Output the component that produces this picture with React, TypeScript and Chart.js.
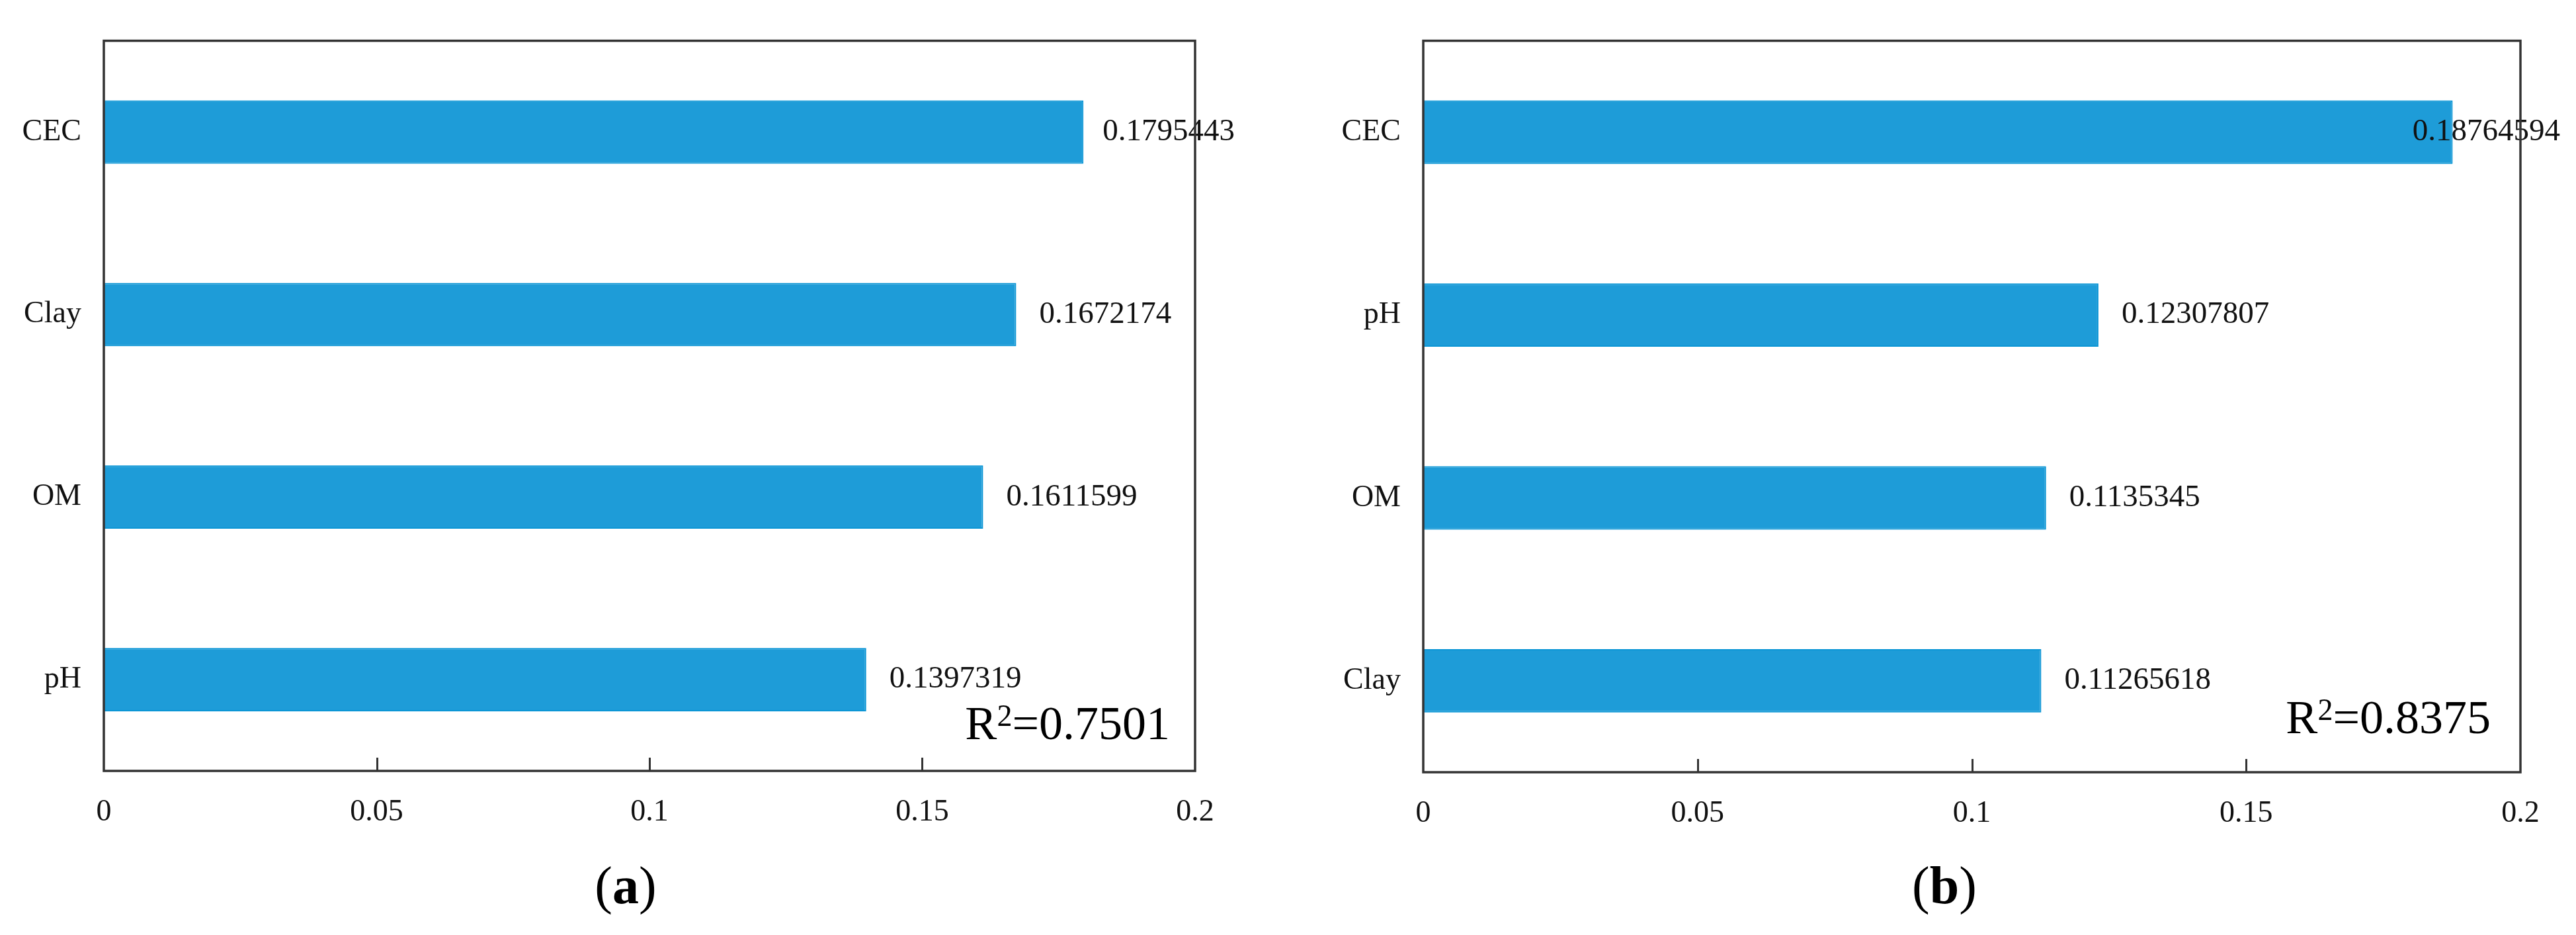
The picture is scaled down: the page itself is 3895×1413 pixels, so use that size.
import React, { useEffect, useRef } from 'react';
import { Chart, registerables } from 'chart.js';

Chart.register(...registerables);

// ---- data ----
const categoriesA = ['CEC', 'Clay', 'OM', 'pH'];
const valuesA = [0.1795443, 0.1672174, 0.1611599, 0.1397319];
const categoriesB = ['CEC', 'pH', 'OM', 'Clay'];
const valuesB = [0.18764594, 0.12307807, 0.1135345, 0.11265618];
const xTickValues = [0, 0.05, 0.1, 0.15, 0.2];
const xTickLabels = ['0', '0.05', '0.1', '0.15', '0.2'];
const r2A = '0.7501';
const r2B = '0.8375';
const captionA = 'a';
const captionB = 'b';

const FONT = '"Liberation Serif", "Times New Roman", serif';
const BAR_COLOR = '#1e9cd8';
const BAR_EDGE = '#0a95d5';
const FRAME = '#333333';

type PanelCfg = {
  left: number;
  width: number;
  yAxisWidth: number;
  padTop: number;
  padRight: number;
  xAxisHeight: number;
  r2Right: number;
  r2Bottom: number;
  categories: string[];
  values: number[];
  r2: string;
  caption: string;
};

const panelA: PanelCfg = {
  left: 0, width: 1892, yAxisWidth: 157, padTop: 35, padRight: 85, xAxisHeight: 248,
  r2Right: 38, r2Bottom: 48,
  categories: categoriesA, values: valuesA, r2: r2A, caption: captionA,
};
const panelB: PanelCfg = {
  left: 1985, width: 1910, yAxisWidth: 167, padTop: 30, padRight: 84, xAxisHeight: 246,
  r2Right: 45, r2Bottom: 59,
  categories: categoriesB, values: valuesB, r2: r2B, caption: captionB,
};

const H = 1413;

const decorPlugin = {
  id: 'decor',
  afterDatasetsDraw(chart: any, _args: any, opts: any) {
    const { ctx, chartArea: a } = chart;
    const meta = chart.getDatasetMeta(0);
    const vals: number[] = chart.data.datasets[0].data;
    ctx.save();
    ctx.fillStyle = '#111';
    ctx.font = `47px ${FONT}`;
    ctx.textBaseline = 'middle';
    ctx.textAlign = 'left';
    meta.data.forEach((bar: any, i: number) => {
      const txt = String(vals[i]);
      const w = ctx.measureText(txt).width;
      const x = Math.min(bar.x + 35, a.right + 60 - w);
      ctx.fillText(txt, x, bar.y);
    });
    ctx.restore();
  },
  afterDraw(chart: any, _args: any, opts: any) {
    const { ctx, chartArea: a, scales } = chart;
    ctx.save();
    // frame
    ctx.strokeStyle = FRAME;
    ctx.lineWidth = 3.5;
    ctx.strokeRect(a.left, a.top, a.right - a.left, a.bottom - a.top);
    // inward ticks
    const xs = scales.x;
    ctx.lineWidth = 3;
    xs.ticks.forEach((t: any) => {
      if (t.value > xs.min && t.value < xs.max) {
        const px = Math.round(xs.getPixelForValue(t.value)) + 0.5;
        ctx.beginPath();
        ctx.moveTo(px, a.bottom);
        ctx.lineTo(px, a.bottom - 20);
        ctx.stroke();
      }
    });
    // R^2 annotation
    ctx.fillStyle = '#000';
    ctx.textBaseline = 'alphabetic';
    ctx.textAlign = 'left';
    const big = `72px ${FONT}`;
    const small = `46px ${FONT}`;
    const rest = '=' + opts.r2;
    ctx.font = big;
    const wR = ctx.measureText('R').width;
    const wRest = ctx.measureText(rest).width;
    ctx.font = small;
    const w2 = ctx.measureText('2').width;
    const total = wR + w2 + wRest;
    const x0 = a.right - opts.r2Right - total;
    const base = a.bottom - opts.r2Bottom;
    ctx.font = big;
    ctx.fillText('R', x0, base);
    ctx.font = small;
    ctx.fillText('2', x0 + wR, base - 20);
    ctx.font = big;
    ctx.fillText(rest, x0 + wR + w2, base);
    // caption (a)/(b)
    const capReg = `80px ${FONT}`;
    const capBold = `bold 80px ${FONT}`;
    ctx.font = capReg;
    const wp1 = ctx.measureText('(').width;
    const wp2 = ctx.measureText(')').width;
    ctx.font = capBold;
    const wl = ctx.measureText(opts.caption).width;
    const cx = chart.width / 2;
    const cstart = cx - (wp1 + wl + wp2) / 2;
    const cbase = 1365;
    ctx.font = capReg;
    ctx.fillText('(', cstart, cbase);
    ctx.font = capBold;
    ctx.fillText(opts.caption, cstart + wp1, cbase);
    ctx.font = capReg;
    ctx.fillText(')', cstart + wp1 + wl, cbase);
    ctx.restore();
  },
};

function Panel({ cfg }: { cfg: PanelCfg }) {
  const ref = useRef<HTMLCanvasElement | null>(null);
  useEffect(() => {
    if (!ref.current) return;
    const chart = new Chart(ref.current, {
      type: 'bar',
      data: {
        labels: cfg.categories,
        datasets: [
          {
            data: cfg.values,
            backgroundColor: BAR_COLOR,
            borderColor: BAR_EDGE,
            borderWidth: 2,
            barPercentage: 0.347,
            categoryPercentage: 1,
          },
        ],
      },
      options: {
        indexAxis: 'y',
        animation: false,
        responsive: true,
        maintainAspectRatio: false,
        devicePixelRatio: 1,
        layout: { padding: { top: cfg.padTop, right: cfg.padRight, left: 0, bottom: 0 } },
        plugins: {
          legend: { display: false },
          tooltip: { enabled: false },
          decor: { r2: cfg.r2, caption: cfg.caption, r2Right: cfg.r2Right, r2Bottom: cfg.r2Bottom },
        } as any,
        scales: {
          x: {
            type: 'linear',
            min: 0,
            max: 0.2,
            afterBuildTicks: (scale: any) => {
              scale.ticks = xTickValues.map((v) => ({ value: v }));
            },
            ticks: {
              autoSkip: false,
              maxRotation: 0,
              padding: 35,
              color: '#111',
              font: { family: FONT, size: 46 },
              callback: (_v: any, i: number) => xTickLabels[i],
            },
            grid: { display: false, drawTicks: false },
            border: { display: false },
            afterFit: (scale: any) => {
              scale.height = cfg.xAxisHeight;
            },
          },
          y: {
            ticks: {
              padding: 34,
              color: '#111',
              font: { family: FONT, size: 46 },
            },
            grid: { display: false, drawTicks: false },
            border: { display: false },
            afterFit: (scale: any) => {
              scale.width = cfg.yAxisWidth;
            },
          },
        },
      },
      plugins: [decorPlugin],
    } as any);
    return () => chart.destroy();
  }, [cfg]);
  return (
    <div style={{ position: 'absolute', left: cfg.left, top: 0, width: cfg.width, height: H }}>
      <canvas ref={ref} />
    </div>
  );
}

export default function App() {
  return (
    <div style={{ position: 'absolute', left: 0, top: 0, width: 3895, height: H, background: '#fff', overflow: 'hidden' }}>
      <Panel cfg={panelA} />
      <Panel cfg={panelB} />
    </div>
  );
}
